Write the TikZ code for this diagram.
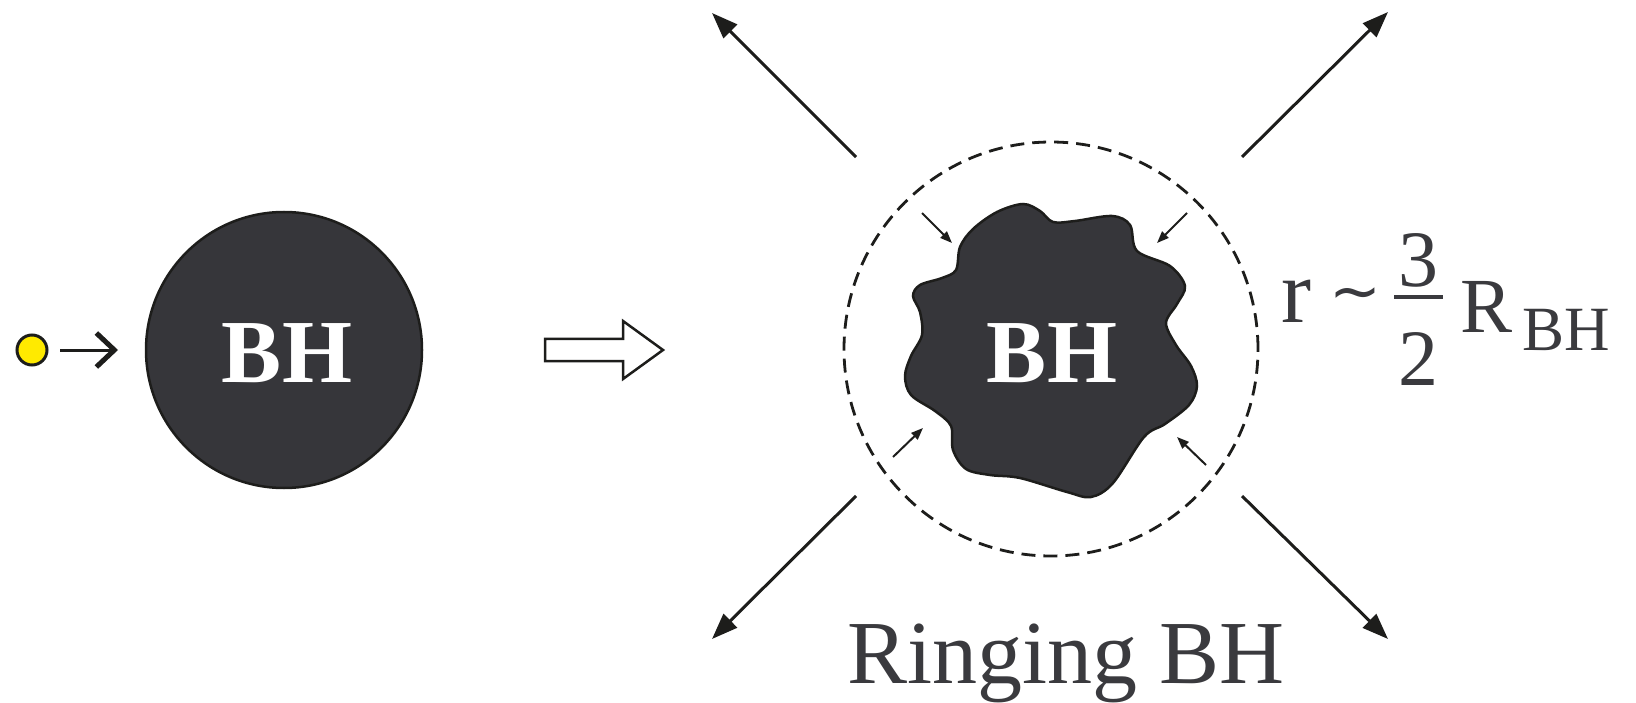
\documentclass[tikz,border=0pt]{standalone}
\usepackage{fontspec}
\setmainfont{Liberation Serif}
\newfontfamily\symbolfont{DejaVu Sans}
\usetikzlibrary{arrows.meta}

\definecolor{bhfill}{RGB}{54,54,58}
\definecolor{ink}{RGB}{29,29,27}
\definecolor{labelgray}{RGB}{58,58,62}
\definecolor{particle}{RGB}{255,234,0}

\tikzset{
  hole/.style={fill=bhfill, draw=ink, line width=2.5pt},
  bhlabel/.style={text=white, font=\fontsize{90}{90}\selectfont\bfseries, inner sep=0pt, anchor=base},
  outarrow/.style={draw=ink, line width=3pt, -{Triangle[length=26pt,width=19pt]}},
  inarrow/.style={draw=ink, line width=2pt, -{Triangle[length=12pt,width=9pt]}},
  horizon/.style={draw=ink, line width=2.8pt, dash pattern=on 14pt off 8pt},
  formula/.style={text=labelgray, inner sep=0pt},
}

\begin{document}
\begin{tikzpicture}[x=1pt, y=-1pt]
  \useasboundingbox (0,0) rectangle (1636,703);

  % infalling particle
  \node[circle, fill=particle, draw=ink, line width=3pt, minimum size=30pt, inner sep=0pt] (dot) at (32,350) {};
  \coordinate (pS) at (60,350);
  \coordinate (pE) at (118,350);
  \draw[ink, line width=3pt, -{Straight Barb[length=18pt,width=34pt,line width=5pt]}] (pS) -- (pE);

  % black hole before the merger
  \node[circle, hole, minimum size=276pt, inner sep=0pt] (bh) at (284,350) {};
  \node[bhlabel] (bhtext) at (287,382) {BH};

  % hollow transition arrow
  \draw[ink, line width=2.5pt, fill=white, line join=miter]
    (545,339) -- (623,339) -- (623,321) -- (663,350) -- (623,379) -- (623,361) -- (545,361) -- cycle;

  % perturbed horizon
  \draw[hole, line width=2.5pt] plot[smooth cycle, tension=0.55] coordinates {
    (960,247) (973,229) (997,212) (1023,204) (1040,211) (1053,222) (1075,221)
    (1112,216) (1130,225) (1137,251) (1170,266) (1185,286) (1177,304) (1166,323)
    (1176,345) (1191,366) (1197,386) (1189,405) (1165,424) (1144,437)
    (1113,483) (1091,497) (1067,492) (1020,478) (990,475) (966,469) (953,450)
    (951,426) (935,411) (911,395) (905,376) (911,356) (922,335) (920,312)
    (913,296) (920,285) (942,278) (956,270)
  };
  \node[bhlabel] (ringtext) at (1052,382) {BH};

  % light ring
  \node[circle, horizon, minimum size=414pt, inner sep=0pt] (ring) at (1051,349) {};

  % inward arrows toward the horizon
  \coordinate (iNWs) at (922,213);  \coordinate (iNWe) at (952,243);
  \coordinate (iNEs) at (1187,213); \coordinate (iNEe) at (1157,243);
  \coordinate (iSWs) at (893,457);  \coordinate (iSWe) at (923,428);
  \coordinate (iSEs) at (1206,465); \coordinate (iSEe) at (1177,437);
  \draw[inarrow] (iNWs) -- (iNWe);
  \draw[inarrow] (iNEs) -- (iNEe);
  \draw[inarrow] (iSWs) -- (iSWe);
  \draw[inarrow] (iSEs) -- (iSEe);

  % outgoing radiation
  \coordinate (oNWs) at (856,157);  \coordinate (oNWe) at (712,13);
  \coordinate (oNEs) at (1242,157); \coordinate (oNEe) at (1388,12);
  \coordinate (oSWs) at (856,496);  \coordinate (oSWe) at (712,639);
  \coordinate (oSEs) at (1242,496); \coordinate (oSEe) at (1388,639);
  \draw[outarrow] (oNWs) -- (oNWe);
  \draw[outarrow] (oNEs) -- (oNEe);
  \draw[outarrow] (oSWs) -- (oSWe);
  \draw[outarrow] (oSEs) -- (oSEe);

  % radius estimate
  \node[formula, anchor=base west, font=\fontsize{90}{90}\selectfont] (fr) at (1281,323) {r};
  \node[formula, font=\fontsize{62}{62}\selectfont\symbolfont] (ftilde) at (1355,300) {∼};
  \node[formula, anchor=base, font=\fontsize{80}{80}\selectfont] (fnum) at (1418,287) {3};
  \coordinate (barL) at (1394,297);
  \coordinate (barR) at (1443,297);
  \draw[labelgray, line width=4pt] (barL) -- (barR);
  \node[formula, anchor=base, font=\fontsize{80}{80}\selectfont] (fden) at (1418,385) {2};
  \node[formula, anchor=base west, font=\fontsize{78}{78}\selectfont] (fR) at (1460,333) {R};
  \node[formula, anchor=base west, font=\fontsize{63}{63}\selectfont] (fsub) at (1522,350) {BH};

  % caption
  \node[formula, anchor=base, font=\fontsize{90}{90}\selectfont] (caption) at (1066,683) {Ringing BH};
\end{tikzpicture}
\end{document}
